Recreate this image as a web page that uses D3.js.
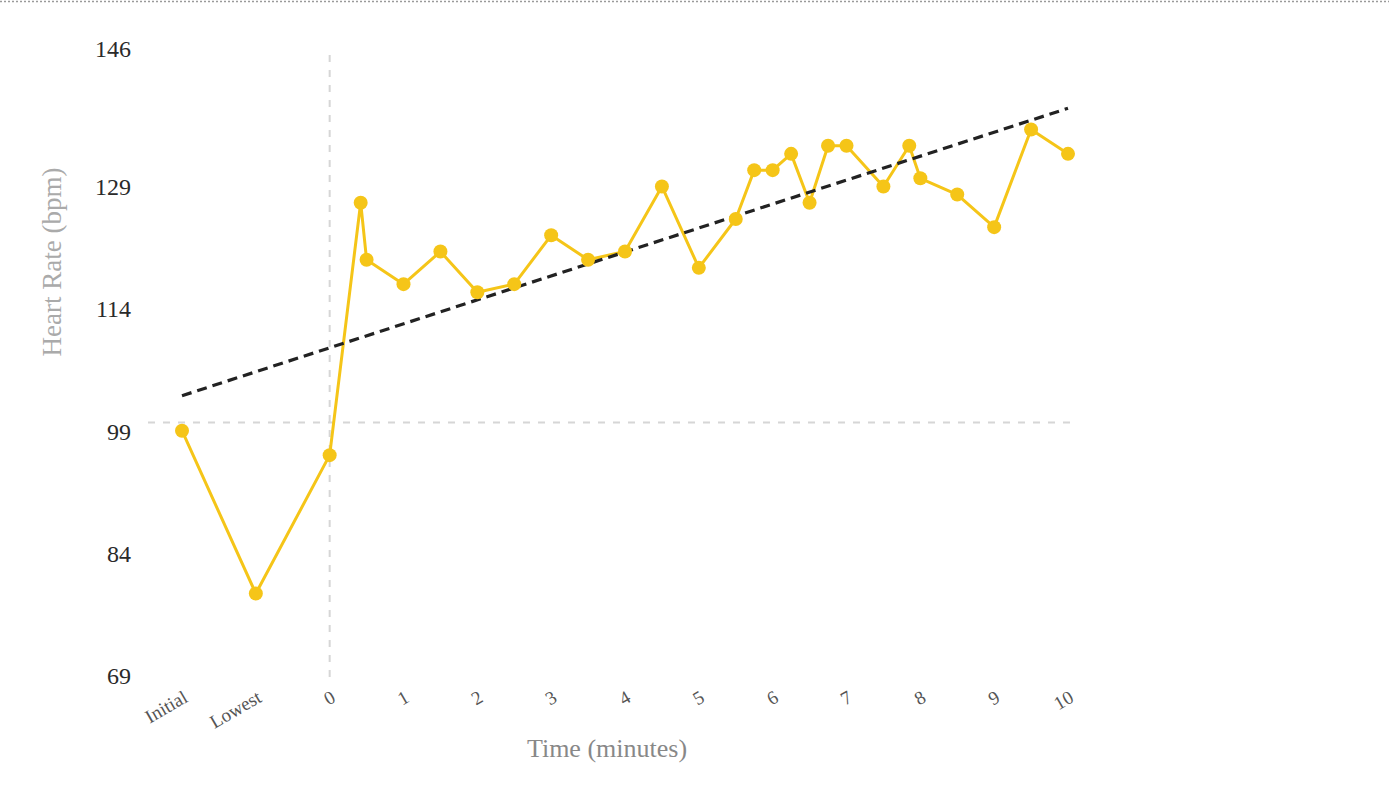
<!DOCTYPE html>
<html>
<head>
<meta charset="utf-8">
<script src="https://cdn.jsdelivr.net/npm/d3@7"></script>
<style>
  html, body { margin: 0; padding: 0; background: #fff; }
  svg { display: block; }
</style>
</head>
<body>
<svg id="chart" width="1389" height="811"></svg>
<script>
// ---- data ----
const categoryLabels = ["Initial", "Lowest", "0", "1", "2", "3", "4", "5", "6", "7", "8", "9", "10"];
const categoryPositions = [-2, -1, 0, 1, 2, 3, 4, 5, 6, 7, 8, 9, 10];
const timeMinutes = [-2, -1, 0, 0.42, 0.5, 1, 1.5, 2, 2.5, 3, 3.5, 4, 4.5, 5, 5.5, 5.75, 6, 6.25, 6.5, 6.75, 7, 7.5, 7.85, 8, 8.5, 9, 9.5, 10];
const heartRate   = [99, 79, 96, 127, 120, 117, 121, 116, 117, 123, 120, 121, 129, 119, 125, 131, 131, 133, 127, 134, 134, 129, 134, 130, 128, 124, 136, 133];
const yTickValues = [69, 84, 99, 114, 129, 146];
const trendX = [-2, 10];
const trendY = [103.3, 138.6];
const baselineHR = 100;
const startTime = 0;

// ---- layout ----
const svg = d3.select("#chart");
const x = d3.scaleLinear().domain([-2, 10]).range([182, 1068]);
const y = d3.scaleLinear().domain([69, 146]).range([675, 48]);
const yellow = "#F5C518";
const serif = "'Liberation Serif', 'Times New Roman', serif";

// top dotted border
svg.append("line")
  .attr("x1", 0).attr("x2", 1389).attr("y1", 1.5).attr("y2", 1.5)
  .attr("stroke", "#9a9a9a").attr("stroke-width", 1.5).attr("stroke-dasharray", "2,2");

// reference grid lines (dashed)
svg.append("line")
  .attr("x1", 148).attr("x2", 1072)
  .attr("y1", y(baselineHR)).attr("y2", y(baselineHR))
  .attr("stroke", "#d6d6d6").attr("stroke-width", 2).attr("stroke-dasharray", "7,8");
svg.append("line")
  .attr("x1", x(startTime)).attr("x2", x(startTime))
  .attr("y1", 55).attr("y2", 678)
  .attr("stroke", "#d6d6d6").attr("stroke-width", 2).attr("stroke-dasharray", "7,8");

// y axis labels
const yAxis = d3.axisLeft(y).tickValues(yTickValues).tickSize(0).tickPadding(0).tickFormat(d3.format("d"));
const yg = svg.append("g").attr("transform", "translate(131,0)").call(yAxis);
yg.select(".domain").remove();
yg.selectAll("text")
  .attr("font-family", serif)
  .attr("font-size", 24).attr("fill", "#2a2a2a").attr("dy", "0.35em");

// x axis labels
const xAxis = d3.axisBottom(x).tickValues(categoryPositions).tickSize(0)
  .tickFormat((d, i) => categoryLabels[i]);
const xg = svg.append("g").call(xAxis);
xg.select(".domain").remove();
xg.selectAll(".tick").attr("transform", d => `translate(${x(d) + 7},701)`);
xg.selectAll("text")
  .attr("y", 0).attr("dy", 0)
  .attr("transform", "rotate(-30)")
  .attr("text-anchor", "end")
  .attr("font-family", serif)
  .attr("font-size", 19).attr("fill", "#555");

// axis titles
svg.append("text")
  .attr("transform", `translate(61,262) rotate(-90)`)
  .attr("text-anchor", "middle")
  .attr("font-family", serif)
  .attr("font-size", 27).attr("fill", "#aaa")
  .text("Heart Rate (bpm)");
svg.append("text")
  .attr("x", 607).attr("y", 757)
  .attr("text-anchor", "middle")
  .attr("font-family", serif)
  .attr("font-size", 26).attr("fill", "#888")
  .text("Time (minutes)");

// data line
const pts = timeMinutes.map((t, i) => ({ t, v: heartRate[i] }));
svg.append("path")
  .datum(pts)
  .attr("fill", "none").attr("stroke", yellow).attr("stroke-width", 3)
  .attr("stroke-linejoin", "round")
  .attr("d", d3.line().x(d => x(d.t)).y(d => y(d.v)));

// trend line
svg.append("path")
  .datum(trendX.map((t, i) => ({ t, v: trendY[i] })))
  .attr("fill", "none").attr("stroke", "#222").attr("stroke-width", 3.2)
  .attr("stroke-dasharray", "10,6")
  .attr("d", d3.line().x(d => x(d.t)).y(d => y(d.v)));

// points
svg.append("g").selectAll("circle").data(pts).join("circle")
  .attr("cx", d => x(d.t)).attr("cy", d => y(d.v)).attr("r", 7)
  .attr("fill", yellow);
</script>
</body>
</html>
